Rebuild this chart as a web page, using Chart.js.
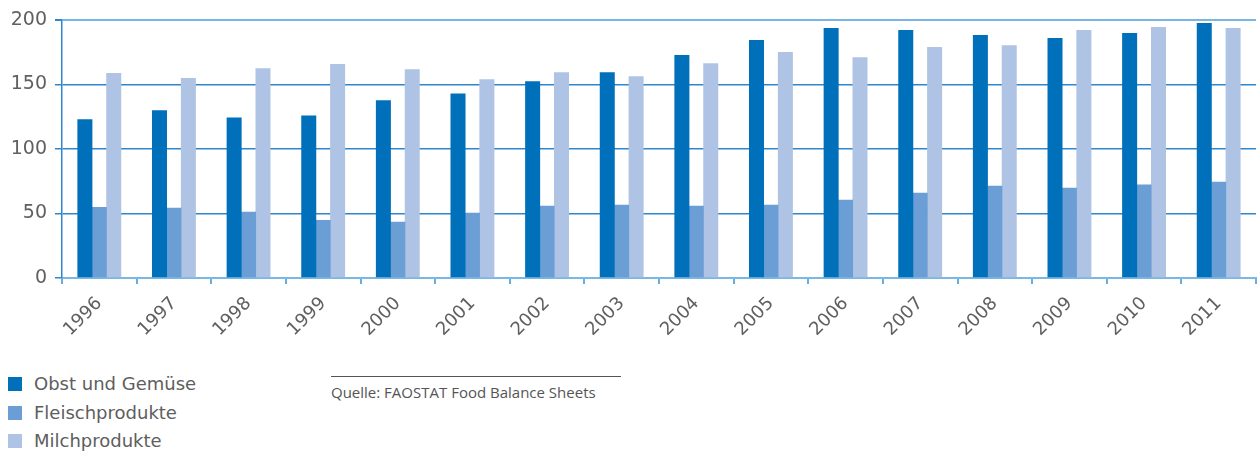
<!DOCTYPE html>
<html>
<head>
<meta charset="utf-8">
<script src="https://cdn.jsdelivr.net/npm/chart.js@4"></script>
<style>
  body { margin: 0; background: #fff; width: 1257px; height: 452px; overflow: hidden; position: relative; }
  #wrap { position: absolute; left: 0; top: 0; width: 1257px; height: 360px; }
  .legend { position: absolute; left: 8px; top: 370px; font-family: "DejaVu Sans", sans-serif; font-size: 18px; color: #5e5e5e; }
  .legend div { height: 28.5px; line-height: 28px; white-space: nowrap; }
  .legend span { display: inline-block; width: 14px; height: 14px; margin-right: 12px; vertical-align: -1px; }
  .source { position: absolute; left: 331px; top: 376px; width: 290px; border-top: 1px solid #555;
    font-family: "Open Sans", sans-serif; font-size: 15px; color: #555; padding-top: 5px; white-space: nowrap; }
</style>
</head>
<body>
<div id="wrap"><canvas id="myChart"></canvas></div>
<div class="legend" id="legend"></div>
<div class="source">Quelle: FAOSTAT Food Balance Sheets</div>
<script>
const years = ["1996", "1997", "1998", "1999", "2000", "2001", "2002", "2003",
  "2004", "2005", "2006", "2007", "2008", "2009", "2010", "2011"];
const obstGemuese = [123, 130, 124.5, 126, 137.7, 143, 152.5, 159.5, 172.8, 184.4, 193.8, 192.2, 188.3, 186, 189.9, 197.7];
const fleisch = [55, 54.5, 51.4, 45, 43.6, 50.6, 56, 56.8, 56, 56.8, 60.7, 66.1, 71.6, 70, 72.4, 74.7];
const milch = [159, 155, 162.6, 165.8, 161.9, 154, 159.5, 156.4, 166.5, 175.1, 171.2, 179, 180.5, 192.2, 194.6, 193.8];
const yTicks = [0, 50, 100, 150, 200];

const seriesNames = ["Obst und Gemüse", "Fleischprodukte", "Milchprodukte"];
const colors = ["#0070ba", "#6a9ed4", "#afc4e4"];

const makeSet = (label, data, color) => ({
  label,
  data,
  backgroundColor: color,
  borderWidth: 0,
  categoryPercentage: 0.58,
  barPercentage: 1.04,
});

const ctx = document.getElementById("myChart").getContext("2d");
new Chart(ctx, {
  type: "bar",
  data: {
    labels: years,
    datasets: [
      makeSet(seriesNames[0], obstGemuese, colors[0]),
      makeSet(seriesNames[1], fleisch, colors[1]),
      makeSet(seriesNames[2], milch, colors[2]),
    ],
  },
  options: {
    responsive: true,
    maintainAspectRatio: false,
    animation: false,
    layout: { padding: { top: 20, right: 1, left: 0, bottom: 0 } },
    plugins: {
      legend: { display: false },
      tooltip: { enabled: false },
    },
    scales: {
      x: {
        offset: true,
        grid: {
          offset: true,
          drawOnChartArea: false,
          tickLength: 6,
          tickColor: "#6aaee0",
          lineWidth: 2,
        },
        border: { color: "#7ab8e4", width: 2 },
        ticks: {
          minRotation: 45,
          maxRotation: 45,
          color: "#606060",
          padding: 9,
          font: { family: "DejaVu Sans", size: 18 },
        },
        afterFit: (scale) => { scale.height = 82; },
      },
      y: {
        min: 0,
        max: 200,
        afterBuildTicks: (scale) => { scale.ticks = yTicks.map((v) => ({ value: v })); },
        grid: {
          color: (c) => (c.index === yTicks.length - 1 ? "#79b6e3" : "#2f86cc"),
          lineWidth: (c) => (c.index === yTicks.length - 1 ? 2 : 1.5),
          tickLength: 7,
          tickColor: "#2f86cc",
        },
        border: { color: "#2f86cc", width: 1.5 },
        ticks: {
          color: "#606060",
          padding: 8,
          font: { family: "DejaVu Sans", size: 19 },
        },
        afterFit: (scale) => { scale.width = 62; },
      },
    },
  },
});

const legend = document.getElementById("legend");
seriesNames.forEach((name, i) => {
  const row = document.createElement("div");
  const box = document.createElement("span");
  box.style.background = colors[i];
  row.appendChild(box);
  row.appendChild(document.createTextNode(name));
  legend.appendChild(row);
});
</script>
</body>
</html>
